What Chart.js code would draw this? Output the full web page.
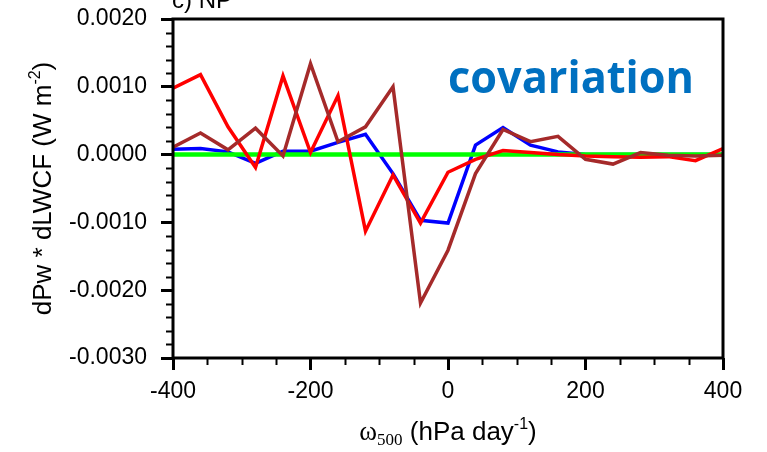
<!DOCTYPE html>
<html>
<head>
<meta charset="utf-8">
<script src="https://cdn.jsdelivr.net/npm/chart.js@4.4.1/dist/chart.umd.min.js"></script>
<style>
  body { margin: 0; background: #fff; }
  #wrap { width: 767px; height: 452px; }
</style>
</head>
<body>
<div id="wrap"><canvas id="covC" width="767" height="452"></canvas></div>
<script>
// omega500 bins (hPa/day)
var omega = [-400, -360, -320, -280, -240, -200, -160, -120, -80, -40, 0,
             40, 80, 120, 160, 200, 240, 280, 320, 360, 400];

// dPw * dLWCF
var redVals = [0.00098, 0.00118, 0.00041, -0.00019, 0.00116, 0.00003, 0.00087, -0.00113, -0.00030, -0.00101, -0.00026,
               -0.00007, 0.00006, 0.00003, 0.00000, -0.00002, -0.00003, -0.00004, -0.00003, -0.00009, 0.00009];
var blueVals = [0.00008, 0.00009, 0.00004, -0.00013, 0.00005, 0.00005, 0.00018, 0.00030, -0.00028, -0.00097, -0.00101,
                0.00014, 0.00040, 0.00014, 0.00004, 0.00000, 0.00000, 0.00000, 0.00000, 0.00000, 0.00000];
var brownVals = [0.00011, 0.00032, 0.00007, 0.00039, -0.00002, 0.00134, 0.00019, 0.00041, 0.00100, -0.00219, -0.00141,
                 -0.00028, 0.00037, 0.00019, 0.00027, -0.00007, -0.00014, 0.00003, -0.00001, -0.00002, -0.00001];
var greenVals = [0, 0, 0, 0, 0, 0, 0, 0, 0, 0, 0, 0, 0, 0, 0, 0, 0, 0, 0, 0, 0];

var yTicks = [-0.003, -0.002, -0.001, 0, 0.001, 0.002];
var xTicks = [-400, -200, 0, 200, 400];

function pts(vals) {
    return omega.map(function (x, i) { return { x: x, y: vals[i] }; });
}

// minor ticks + frame + labels (NCL look)
var nclDecor = {
    id: 'nclDecor',
    afterDraw: function (chart) {
        var ctx = chart.ctx;
        var a = chart.chartArea;
        var xs = chart.scales.x, ys = chart.scales.y;
        ctx.save();
        ctx.strokeStyle = '#000';
        ctx.lineWidth = 2;
        // minor y ticks every 0.0002
        for (var i = -15; i <= 10; i++) {
            if (i % 5 === 0) continue;
            var py = Math.round(ys.getPixelForValue(i * 0.0002)) + 0.5;
            ctx.beginPath();
            ctx.moveTo(a.left, py);
            ctx.lineTo(a.left - 7, py);
            ctx.stroke();
        }
        // minor x ticks every 50
        for (var j = -8; j <= 8; j++) {
            if (j % 4 === 0) continue;
            var px = Math.round(xs.getPixelForValue(j * 50)) + 0.5;
            ctx.beginPath();
            ctx.moveTo(px, a.bottom);
            ctx.lineTo(px, a.bottom + 7);
            ctx.stroke();
        }
        // frame
        ctx.lineWidth = 3;
        ctx.strokeRect(a.left, a.top, a.right - a.left, a.bottom - a.top);

        // panel title, cut off at top
        ctx.fillStyle = '#000';
        ctx.font = '24px "Liberation Sans", Arial, sans-serif';
        ctx.textBaseline = 'alphabetic';
        ctx.textAlign = 'left';
        ctx.fillText('c) NP', 172, 8);

        // y title
        ctx.save();
        ctx.translate(51, (a.top + a.bottom) / 2);
        ctx.rotate(-Math.PI / 2);
        drawRich(ctx, [
            { t: 'dPw * dLWCF (W m', f: '26px "Liberation Sans", Arial, sans-serif', dy: 0 },
            { t: '-2', f: '16px "Liberation Sans", Arial, sans-serif', dy: -11 },
            { t: ')', f: '26px "Liberation Sans", Arial, sans-serif', dy: 0 }
        ], 0, 0);
        ctx.restore();

        // x title
        drawRich(ctx, [
            { t: '\u03c9', f: '27px "Liberation Serif", serif', dy: 0 },
            { t: '500', f: '17px "Liberation Serif", serif', dy: 5 },
            { t: ' (hPa day', f: '26px "Liberation Sans", Arial, sans-serif', dy: 0 },
            { t: '-1', f: '16px "Liberation Sans", Arial, sans-serif', dy: -11 },
            { t: ')', f: '26px "Liberation Sans", Arial, sans-serif', dy: 0 }
        ], (a.left + a.right) / 2, 440);

        // covariation label
        ctx.fillStyle = '#0070c0';
        ctx.font = 'bold 44px "Open Sans", sans-serif';
        ctx.textAlign = 'left';
        ctx.fillText('covariation', 448, 93, 246);
        ctx.restore();
    }
};

function drawRich(ctx, parts, cx, by) {
    var w = 0;
    parts.forEach(function (p) { ctx.font = p.f; w += ctx.measureText(p.t).width; });
    var x = cx - w / 2;
    ctx.textAlign = 'left';
    ctx.textBaseline = 'alphabetic';
    ctx.fillStyle = '#000';
    parts.forEach(function (p) {
        ctx.font = p.f;
        ctx.fillText(p.t, x, by + p.dy);
        x += ctx.measureText(p.t).width;
    });
}

var ctx = document.getElementById('covC');
var myChart = new Chart(ctx, {
    type: 'line',
    data: {
        datasets: [
            { label: 'brown', data: pts(brownVals), borderColor: '#a52a2a', borderWidth: 3.5, order: 0 },
            { label: 'red', data: pts(redVals), borderColor: '#ff0000', borderWidth: 3.5, order: 1 },
            { label: 'zero', data: pts(greenVals), borderColor: '#00ff00', borderWidth: 4.5, order: 2 },
            { label: 'blue', data: pts(blueVals), borderColor: '#0000ff', borderWidth: 3.5, order: 3 }
        ]
    },
    options: {
        responsive: false,
        animation: false,
        events: [],
        elements: {
            point: { radius: 0 },
            line: { tension: 0, fill: false, borderJoinStyle: 'miter' }
        },
        layout: { padding: { top: 19, right: 44, bottom: 0, left: 0 } },
        plugins: {
            legend: { display: false },
            tooltip: { enabled: false },
            title: { display: false }
        },
        scales: {
            x: {
                type: 'linear',
                min: -400,
                max: 400,
                afterBuildTicks: function (s) { s.ticks = xTicks.map(function (v) { return { value: v }; }); },
                afterFit: function (s) { s.height = 94; s.paddingLeft = 0; s.paddingRight = 0; },
                grid: { drawOnChartArea: false, tickLength: 12, tickWidth: 3, tickColor: '#000' },
                border: { display: false },
                ticks: {
                    color: '#000',
                    padding: 8,
                    maxRotation: 0,
                    font: { family: '"Liberation Sans", Arial, sans-serif', size: 23 },
                    callback: function (v) { return String(v); }
                }
            },
            y: {
                min: -0.003,
                max: 0.002,
                afterBuildTicks: function (s) { s.ticks = yTicks.map(function (v) { return { value: v }; }); },
                afterFit: function (s) { s.width = 173; s.paddingTop = 0; s.paddingBottom = 0; },
                grid: { drawOnChartArea: false, tickLength: 12, tickWidth: 3, tickColor: '#000' },
                border: { display: false },
                ticks: {
                    color: '#000',
                    padding: 14,
                    font: { family: '"Liberation Sans", Arial, sans-serif', size: 23 },
                    callback: function (v) { return Number(v).toFixed(4); }
                }
            }
        }
    },
    plugins: [nclDecor]
});
</script>
</body>
</html>
